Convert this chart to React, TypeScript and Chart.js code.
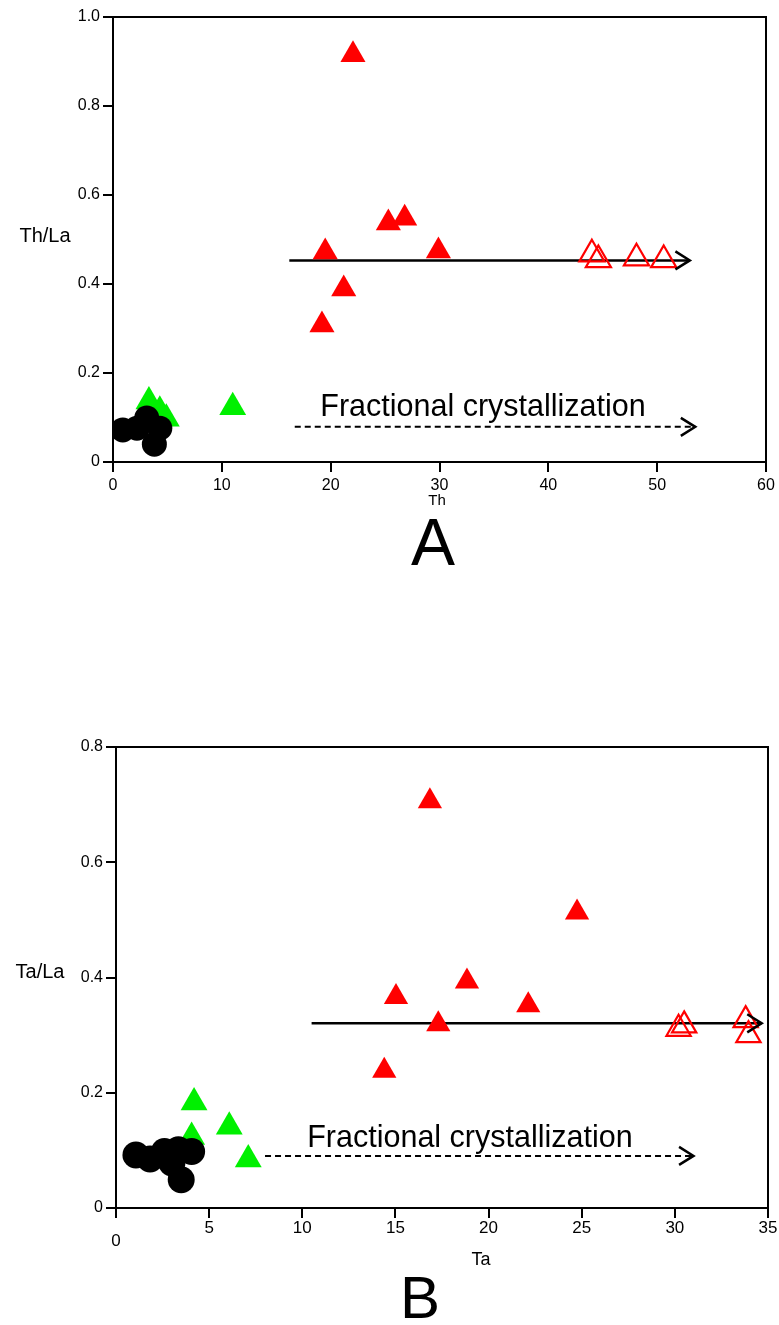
import React, { useEffect, useRef } from 'react';
import { Chart, registerables } from 'chart.js';

Chart.register(...registerables);

const FONT = '"Liberation Sans", Arial, Helvetica, sans-serif';

// ---------- Panel A : Th vs Th/La ----------
const aBlackTh = [0.9, 2.2, 3.1, 3.8, 4.3];
const aBlackThLa = [0.072, 0.076, 0.099, 0.04, 0.076];
const aGreenTh = [3.3, 4.3, 4.9, 11.0];
const aGreenThLa = [0.136, 0.115, 0.097, 0.123];
const aRedTh = [22.05, 25.3, 26.8, 19.5, 29.9, 21.2, 19.2];
const aRedThLa = [0.915, 0.537, 0.548, 0.472, 0.474, 0.389, 0.308];
const aOpenTh = [44.0, 44.6, 48.1, 50.6];
const aOpenThLa = [0.467, 0.454, 0.458, 0.454];
const aSolidArrowX = [16.2, 53.0];
const aSolidArrowY = [0.453, 0.453];
const aDashArrowX = [16.7, 53.5];
const aDashArrowY = [0.079, 0.079];
const aLabelAt = [34.0, 0.103];
const aXRange = [0, 60, 10];
const aYRange = [0, 1.0, 0.2];

// ---------- Panel B : Ta vs Ta/La ----------
const bBlackTa = [1.07, 1.83, 2.6, 3.35, 4.06, 3.5, 3.0];
const bBlackTaLa = [0.092, 0.085, 0.098, 0.101, 0.098, 0.049, 0.078];
const bGreenTa = [4.19, 6.08, 7.1, 4.06];
const bGreenTaLa = [0.183, 0.141, 0.084, 0.123];
const bRedTa = [16.85, 24.75, 18.84, 15.03, 22.13, 17.3, 14.4];
const bRedTaLa = [0.706, 0.513, 0.393, 0.366, 0.352, 0.319, 0.238];
const bOpenTa = [30.2, 30.5, 33.8, 33.95];
const bOpenTaLa = [0.311, 0.317, 0.326, 0.3];
const bSolidArrowX = [10.5, 34.66];
const bSolidArrowY = [0.3205, 0.3205];
const bDashArrowX = [8.0, 31.0];
const bDashArrowY = [0.0904, 0.0904];
const bLabelAt = [19.0, 0.106];
const bXRange = [0, 35, 5];
const bYRange = [0, 0.8, 0.2];

const annotationText = 'Fractional crystallization';

const zip = (xs: number[], ys: number[]) => xs.map((x, i) => ({ x, y: ys[i] }));

const GREEN = '#00f000';
const RED = '#ff0000';

function framePlugin() {
  return {
    id: 'frame',
    afterDraw(chart: any) {
      const { ctx, chartArea: a } = chart;
      ctx.save();
      ctx.strokeStyle = '#000';
      ctx.lineWidth = 2;
      ctx.strokeRect(a.left, a.top, a.right - a.left, a.bottom - a.top);
      ctx.restore();
    },
  };
}

function arrowPlugin() {
  return {
    id: 'arrowHeads',
    afterDatasetsDraw(chart: any) {
      const ctx = chart.ctx;
      chart.data.datasets.forEach((ds: any, i: number) => {
        if (!ds.arrowHead) return;
        const pts = chart.getDatasetMeta(i).data;
        const p1 = pts[pts.length - 2];
        const p2 = pts[pts.length - 1];
        const ang = Math.atan2(p2.y - p1.y, p2.x - p1.x);
        const L = 17;
        const h = (32 * Math.PI) / 180;
        ctx.save();
        ctx.setLineDash([]);
        ctx.strokeStyle = '#000';
        ctx.lineWidth = 2.5;
        ctx.beginPath();
        ctx.moveTo(p2.x - L * Math.cos(ang - h), p2.y - L * Math.sin(ang - h));
        ctx.lineTo(p2.x, p2.y);
        ctx.lineTo(p2.x - L * Math.cos(ang + h), p2.y - L * Math.sin(ang + h));
        ctx.stroke();
        ctx.restore();
      });
    },
  };
}

type Txt = { text: string; x: number; y: number; size: number };

function textPlugin(fixed: Txt[], dataText: { text: string; at: number[]; size: number }) {
  return {
    id: 'texts',
    afterDraw(chart: any) {
      const ctx = chart.ctx;
      ctx.save();
      ctx.fillStyle = '#000';
      ctx.textAlign = 'center';
      ctx.textBaseline = 'middle';
      fixed.forEach((t) => {
        ctx.font = `${t.size}px ${FONT}`;
        ctx.fillText(t.text, t.x, t.y);
      });
      const px = chart.scales.x.getPixelForValue(dataText.at[0]);
      const py = chart.scales.y.getPixelForValue(dataText.at[1]);
      ctx.font = `${dataText.size}px ${FONT}`;
      ctx.textBaseline = 'alphabetic';
      ctx.fillText(dataText.text, px, py);
      ctx.restore();
    },
  };
}

function buildConfig(p: any) {
  const datasets: any[] = [
    {
      label: 'black',
      data: zip(p.blackX, p.blackY),
      pointStyle: 'circle',
      pointRadius: p.circleR,
      backgroundColor: '#000',
      borderColor: '#000',
      borderWidth: 0,
      showLine: false,
    },
    {
      label: 'green',
      data: zip(p.greenX, p.greenY),
      pointStyle: 'triangle',
      pointRadius: 15.5,
      backgroundColor: GREEN,
      borderColor: GREEN,
      borderWidth: 0,
      showLine: false,
    },
    {
      label: 'red',
      data: zip(p.redX, p.redY),
      pointStyle: 'triangle',
      pointRadius: p.triR,
      backgroundColor: RED,
      borderColor: RED,
      borderWidth: 0,
      showLine: false,
    },
    {
      label: 'redOpen',
      data: zip(p.openX, p.openY),
      pointStyle: 'triangle',
      pointRadius: p.triR,
      backgroundColor: 'rgba(0,0,0,0)',
      borderColor: RED,
      borderWidth: 2.2,
      showLine: false,
    },
    {
      type: 'line',
      label: 'solidArrow',
      data: zip(p.solidX, p.solidY),
      borderColor: '#000',
      borderWidth: 2.5,
      pointRadius: 0,
      showLine: true,
      fill: false,
      arrowHead: true,
    },
    {
      type: 'line',
      label: 'dashArrow',
      data: zip(p.dashX, p.dashY),
      borderColor: '#000',
      borderWidth: 2,
      borderDash: [6, 4],
      pointRadius: 0,
      showLine: true,
      fill: false,
      arrowHead: true,
    },
  ];
  return {
    type: 'scatter',
    data: { datasets },
    options: {
      animation: false,
      responsive: false,
      maintainAspectRatio: false,
      devicePixelRatio: 1,
      layout: { padding: p.padding, autoPadding: false },
      plugins: { legend: { display: false }, tooltip: { enabled: false } },
      scales: {
        x: {
          type: 'linear',
          min: p.xRange[0],
          max: p.xRange[1],
          ticks: {
            stepSize: p.xRange[2],
            color: '#000',
            font: { family: FONT, size: p.xTickSize, lineHeight: p.xLineHeight },
            padding: p.xTickPad,
            maxRotation: 0,
            autoSkip: false,
            callback: p.xCallback,
          },
          grid: { drawOnChartArea: false, drawTicks: true, tickLength: 10, color: '#000', lineWidth: 2 },
          border: { display: true, color: '#000', width: 2 },
          afterFit: (s: any) => {
            s.height = p.xHeight;
            s.paddingLeft = 0;
            s.paddingRight = 0;
          },
        },
        y: {
          type: 'linear',
          min: p.yRange[0],
          max: p.yRange[1],
          ticks: {
            stepSize: p.yRange[2],
            color: '#000',
            font: { family: FONT, size: p.yTickSize },
            padding: p.yTickPad,
            callback: (v: number) => (Math.abs(v) < 1e-9 ? '0' : Number(v).toFixed(1)),
          },
          grid: { drawOnChartArea: false, drawTicks: true, tickLength: 10, color: '#000', lineWidth: 2 },
          border: { display: true, color: '#000', width: 2 },
          afterFit: (s: any) => {
            s.width = p.yWidth;
            s.paddingTop = 0;
            s.paddingBottom = 0;
          },
        },
      },
    },
    plugins: [framePlugin(), arrowPlugin(), textPlugin(p.texts, { text: annotationText, at: p.labelAt, size: 30.5 })],
  };
}

export default function App() {
  const topRef = useRef<HTMLCanvasElement>(null);
  const botRef = useRef<HTMLCanvasElement>(null);

  useEffect(() => {
    const cfgA = buildConfig({
      blackX: aBlackTh, blackY: aBlackThLa,
      greenX: aGreenTh, greenY: aGreenThLa,
      redX: aRedTh, redY: aRedThLa,
      openX: aOpenTh, openY: aOpenThLa,
      solidX: aSolidArrowX, solidY: aSolidArrowY,
      dashX: aDashArrowX, dashY: aDashArrowY,
      labelAt: aLabelAt,
      xRange: aXRange, yRange: aYRange,
      circleR: 12.5, triR: 14.5,
      padding: { left: 0, right: 13, top: 17, bottom: 78 },
      xHeight: 40, yWidth: 113,
      xTickSize: 16, yTickSize: 16, xTickPad: 4, yTickPad: 3, xLineHeight: 1.2,
      xCallback: (v: number) => String(v),
      texts: [
        { text: 'Th/La', x: 45, y: 236, size: 20 },
        { text: 'Th', x: 437, y: 501, size: 15 },
        { text: 'A', x: 433, y: 547, size: 66 },
      ],
    });
    const cfgB = buildConfig({
      blackX: bBlackTa, blackY: bBlackTaLa,
      greenX: bGreenTa, greenY: bGreenTaLa,
      redX: bRedTa, redY: bRedTaLa,
      openX: bOpenTa, openY: bOpenTaLa,
      solidX: bSolidArrowX, solidY: bSolidArrowY,
      dashX: bDashArrowX, dashY: bDashArrowY,
      labelAt: bLabelAt,
      xRange: bXRange, yRange: bYRange,
      circleR: 13.5, triR: 14,
      padding: { left: 0, right: 11, top: 167, bottom: 72 },
      xHeight: 45, yWidth: 116,
      xTickSize: 17, yTickSize: 16, xTickPad: 4, yTickPad: 3, xLineHeight: 0.75,
      xCallback: (v: number) => (v === 0 ? ['', '0'] : String(v)),
      texts: [
        { text: 'Ta/La', x: 40, y: 392, size: 20 },
        { text: 'Ta', x: 481, y: 680, size: 18 },
        { text: 'B', x: 420, y: 721, size: 60 },
      ],
    });
    const c1 = new Chart(topRef.current as HTMLCanvasElement, cfgA as any);
    const c2 = new Chart(botRef.current as HTMLCanvasElement, cfgB as any);
    return () => {
      c1.destroy();
      c2.destroy();
    };
  }, []);

  return (
    <div style={{ position: 'absolute', left: 0, top: 0, width: 779, height: 1325, background: '#fff' }}>
      <canvas ref={topRef} width={779} height={580} style={{ position: 'absolute', left: 0, top: 0, width: 779, height: 580 }} />
      <canvas ref={botRef} width={779} height={745} style={{ position: 'absolute', left: 0, top: 580, width: 779, height: 745 }} />
    </div>
  );
}
